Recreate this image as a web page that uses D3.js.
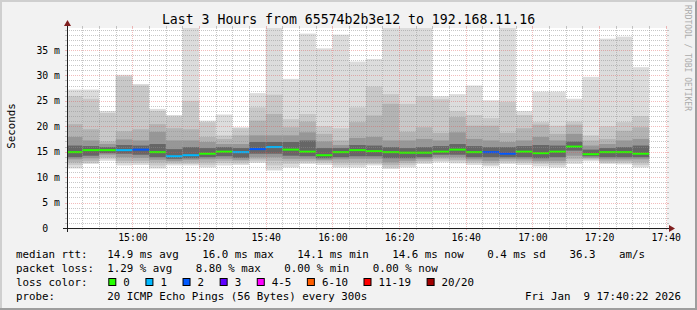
<!DOCTYPE html>
<html>
<head>
<meta charset="utf-8">
<script src="https://cdn.jsdelivr.net/npm/d3@7/dist/d3.min.js"></script>
<style>
  body { margin: 0; background: #f2f2f2; }
  svg text { font-family: "DejaVu Sans Mono", monospace; fill: #000; }
</style>
</head>
<body>
<svg id="smoke"></svg>
<script>
(function () {
    "use strict";

    const width = 697,
        height = 310;

    // ---- data ----
    const day = "2026-01-09";
    const rangeStart = "14:40:22",
        rangeEnd = "17:40:22";

    // end time of each 5 minute step
    const barEnd = ["14:45", "14:50", "14:55", "15:00", "15:05", "15:10", "15:15",
        "15:20", "15:25", "15:30", "15:35", "15:40", "15:45", "15:50", "15:55",
        "16:00", "16:05", "16:10", "16:15", "16:20", "16:25", "16:30", "16:35",
        "16:40", "16:45", "16:50", "16:55", "17:00", "17:05", "17:10", "17:15",
        "17:20", "17:25", "17:30", "17:35"];

    // median rtt (ms)
    const median = [14.9, 15.3, 15.3, 15.3, 15.4, 14.9, 14.1, 14.3, 14.6,
        15.0, 14.9, 15.5, 15.9, 15.4, 15.0, 14.3, 14.9, 15.3,
        15.1, 14.9, 14.8, 14.8, 15.0, 15.4, 14.9, 14.9, 14.6,
        15.0, 14.7, 15.0, 16.0, 14.5, 14.9, 14.9, 14.6];

    // lost pings out of 20
    const lost = [0, 0, 0, 1, 2, 0, 1, 1, 0,
        0, 1, 2, 1, 0, 0, 0, 0, 0,
        0, 0, 0, 0, 0, 0, 0, 2, 2,
        0, 0, 0, 0, 0, 0, 0, 0];

    // smoke, upper edges of the bands, outer band first (ms)
    const smokeHigh = [
        [27.2, 25.9, 20.4, 17.9, 16.2], [27.2, 25.4, 19.4, 17.2, 16.1],
        [23.0, 22.6, 17.0, 16.5, 15.9], [30.1, 29.8, 19.0, 17.4, 16.3],
        [28.3, 28.0, 19.4, 17.2, 16.2], [23.4, 23.0, 20.4, 18.9, 16.5],
        [22.2, 21.9, 19.6, 17.2, 15.5], [45.0, 25.0, 19.4, 17.2, 15.9],
        [21.1, 20.8, 17.9, 16.9, 15.7], [22.3, 18.2, 17.5, 16.5, 15.9],
        [19.8, 19.6, 18.2, 16.5, 15.7], [26.5, 23.7, 21.1, 18.2, 16.9],
        [45.0, 26.2, 22.4, 18.2, 16.9], [29.3, 21.4, 19.8, 18.2, 16.9],
        [38.2, 22.4, 20.9, 18.8, 17.2], [35.3, 20.0, 18.5, 17.0, 15.7],
        [38.0, 19.6, 17.2, 16.3, 15.7], [32.7, 23.7, 20.8, 17.7, 16.3],
        [33.2, 27.8, 22.1, 17.9, 16.2], [45.0, 26.3, 24.4, 17.2, 15.9],
        [45.0, 24.4, 18.9, 17.2, 15.7], [45.0, 25.9, 19.8, 17.5, 15.9],
        [25.9, 25.3, 18.7, 17.2, 16.1], [26.3, 23.0, 21.8, 18.8, 16.5],
        [28.0, 22.2, 20.1, 17.5, 16.1], [25.1, 21.6, 20.1, 17.2, 15.9],
        [45.0, 24.8, 18.7, 16.9, 15.9], [23.0, 22.2, 19.6, 17.2, 16.1],
        [26.8, 20.8, 20.3, 17.9, 16.3], [26.8, 20.1, 18.5, 17.2, 16.2],
        [25.4, 20.9, 20.3, 18.5, 17.0], [29.7, 18.2, 17.2, 16.2, 15.4],
        [37.2, 20.0, 17.5, 16.5, 15.7], [37.6, 20.8, 19.1, 17.2, 15.9],
        [31.6, 22.0, 19.8, 17.5, 16.2]
    ];

    // smoke, lower edges of the bands, outer band first (ms)
    const smokeLow = [
        [11.7, 12.4, 12.9, 13.5, 13.9], [12.6, 12.8, 13.2, 13.7, 14.2],
        [13.2, 13.6, 13.9, 14.4, 14.7], [12.3, 12.8, 13.2, 13.9, 14.6],
        [12.4, 12.8, 13.2, 13.8, 14.4], [11.7, 12.3, 12.9, 13.4, 13.9],
        [12.3, 12.6, 12.9, 13.2, 13.6], [12.3, 12.6, 12.9, 13.4, 13.7],
        [11.9, 12.4, 12.9, 13.5, 13.9], [12.3, 12.8, 13.2, 13.6, 14.1],
        [12.4, 12.7, 13.1, 13.4, 13.8], [12.8, 13.1, 13.5, 13.9, 14.6],
        [11.3, 12.3, 13.2, 13.9, 14.6], [11.9, 12.6, 13.1, 13.6, 14.2],
        [12.6, 12.9, 13.2, 13.6, 14.1], [12.4, 12.8, 13.1, 13.4, 13.7],
        [11.9, 12.4, 12.9, 13.5, 13.9], [11.9, 12.4, 12.9, 13.6, 14.1],
        [12.3, 12.6, 12.9, 13.6, 14.1], [11.6, 11.9, 12.4, 12.9, 13.7],
        [11.9, 12.4, 12.8, 13.2, 13.7], [12.6, 12.9, 13.2, 13.6, 13.9],
        [12.9, 13.2, 13.6, 13.9, 14.4], [12.7, 13.1, 13.4, 13.9, 14.4],
        [12.4, 12.8, 13.1, 13.5, 13.9], [12.1, 12.4, 12.8, 13.2, 13.9],
        [12.6, 12.9, 13.2, 13.6, 13.9], [12.4, 12.8, 13.1, 13.5, 13.9],
        [12.1, 12.6, 12.9, 13.2, 13.7], [11.9, 12.4, 12.8, 13.2, 13.9],
        [12.6, 13.1, 13.6, 14.2, 15.2], [13.1, 13.4, 13.6, 13.8, 14.1],
        [12.6, 12.8, 13.1, 13.5, 13.9], [12.5, 12.8, 13.1, 13.5, 13.9],
        [11.9, 12.4, 12.9, 13.5, 13.9]
    ];

    const yMax = 39.3;
    const yMajor = [0, 5, 10, 15, 20, 25, 30, 35];
    const xLabels = ["15:00", "15:20", "15:40", "16:00", "16:20", "16:40", "17:00", "17:20", "17:40"];

    const lossLabels = ["0", "1", "2", "3", "4-5", "6-10", "11-19", "20/20"];
    const lossUpTo = [0, 1, 2, 3, 5, 10, 19, 20];
    const lossColors = ["#26ff00", "#00b8ff", "#0059ff", "#5e00ff", "#ff00ff", "#ff5e00", "#ff0000", "#a10000"];

    const title = "Last 3 Hours from 65574b2b3e12 to 192.168.11.16";
    const rttLine = ["median rtt:", "14.9 ms avg", "16.0 ms max", "14.1 ms min", "14.6 ms now", "0.4 ms sd", "36.3", "am/s"];
    const lossLine = ["packet loss:", "1.29 % avg", "8.80 % max", "0.00 % min", "0.00 % now"];
    const probeText = "20 ICMP Echo Pings (56 Bytes) every 300s";
    const stamp = "Fri Jan  9 17:40:22 2026";

    const smokeColors = ["#dcdcdc", "#c8c8c8", "#b3b3b3", "#979797", "#666666"];

    // ---- scales ----
    const parse = d3.timeParse("%Y-%m-%d %H:%M:%S");
    const at = s => parse(`${day} ${s.length === 5 ? s + ":00" : s}`);
    const t0 = at(rangeStart), t1 = at(rangeEnd);

    const X0 = 67, X1 = 667, Y0 = 228, Y1 = 28;
    const x = d3.scaleTime().domain([t0, t1]).range([X0, X1]);
    const y = d3.scaleLinear().domain([0, yMax]).range([Y0, Y1]);

    const svg = d3.select("#smoke")
        .attr("width", width)
        .attr("height", height);

    // background and shaded frame
    svg.append("rect").attr("width", width).attr("height", height).attr("fill", "#f2f2f2");
    svg.append("path").attr("d", `M0,${height} V0 H${width} V2 H2 V${height - 2} H0 Z`).attr("fill", "#cfcfcf");
    svg.append("path").attr("d", `M${width},0 V${height} H0 V${height - 2} H${width - 2} V2 Z`).attr("fill", "#9e9e9e");

    svg.append("rect")
        .attr("x", X0).attr("y", Y1)
        .attr("width", X1 - X0).attr("height", Y0 - Y1)
        .attr("fill", "#ffffff");

    svg.append("clipPath").attr("id", "plot")
        .append("rect").attr("x", X0).attr("y", Y1)
        .attr("width", X1 - X0).attr("height", Y0 - Y1);

    const bars = barEnd.map((e, i) => {
        const end = at(e);
        const start = d3.timeMinute.offset(end, -5);
        return {
            x0: Math.max(x(start), X0),
            x1: x(end),
            med: median[i],
            lost: lost[i],
            hi: smokeHigh[i],
            lo: smokeLow[i]
        };
    });

    const plot = svg.append("g").attr("clip-path", "url(#plot)");

    // smoke, outer band first so the darker inner bands sit on top
    smokeColors.forEach((c, k) => {
        plot.append("g").selectAll("rect")
            .data(bars)
            .enter().append("rect")
            .attr("x", d => d.x0)
            .attr("width", d => d.x1 - d.x0)
            .attr("y", d => y(Math.min(d.hi[k], yMax + 1)))
            .attr("height", d => y(d.lo[k]) - y(Math.min(d.hi[k], yMax + 1)))
            .attr("fill", c);
    });

    // median, coloured by loss
    const lossIndex = n => lossUpTo.findIndex(u => n <= u);
    plot.append("g").selectAll("rect")
        .data(bars)
        .enter().append("rect")
        .attr("x", d => d.x0)
        .attr("width", d => d.x1 - d.x0)
        .attr("y", d => y(d.med) - 1)
        .attr("height", 2)
        .attr("fill", d => lossColors[lossIndex(d.lost)]);

    // ---- grid ----
    const grid = svg.append("g").attr("shape-rendering", "crispEdges");
    const minorCol = "rgba(143,143,143,0.5)",
        majorCol = "rgba(222,79,79,0.38)";

    const yMinor = d3.range(1, Math.floor(yMax) + 1).filter(v => v % 5 !== 0);
    const xMajor = xLabels.map(at);
    const xMinor = d3.timeMinute.every(5).range(t0, t1).filter(t => t.getMinutes() % 20 !== 0);

    function hLine(v, col, tick) {
        const yy = Math.round(y(v)) + 0.5;
        grid.append("line").attr("x1", X0 - tick).attr("x2", X0).attr("y1", yy).attr("y2", yy).attr("stroke", col);
        grid.append("line").attr("x1", X1).attr("x2", X1 + tick).attr("y1", yy).attr("y2", yy).attr("stroke", col);
        grid.append("line").attr("x1", X0).attr("x2", X1).attr("y1", yy).attr("y2", yy)
            .attr("stroke", col).attr("stroke-dasharray", "1,1");
    }
    function vLine(t, col, tick) {
        const xx = Math.round(x(t)) + 0.5;
        grid.append("line").attr("x1", xx).attr("x2", xx).attr("y1", Y0).attr("y2", Y0 + tick).attr("stroke", col);
        grid.append("line").attr("x1", xx).attr("x2", xx).attr("y1", Y1 - tick).attr("y2", Y1).attr("stroke", col);
        grid.append("line").attr("x1", xx).attr("x2", xx).attr("y1", Y1).attr("y2", Y0)
            .attr("stroke", col).attr("stroke-dasharray", "1,1");
    }
    yMinor.forEach(v => hLine(v, minorCol, 2));
    xMinor.forEach(t => vLine(t, minorCol, 2));
    yMajor.filter(v => v > 0).forEach(v => hLine(v, majorCol, 2));
    xMajor.forEach(t => vLine(t, majorCol, 2));

    // ---- axes ----
    const xAxis = d3.axisBottom(x)
        .tickValues(xMajor)
        .tickFormat(d3.timeFormat("%H:%M"))
        .tickSize(0);
    const gx = svg.append("g").attr("transform", `translate(0,${Y0})`).call(xAxis);
    gx.select(".domain").remove();
    gx.selectAll("text")
        .attr("y", 13).attr("dy", null)
        .attr("font-family", "DejaVu Sans Mono")
        .attr("font-size", 9.8);

    const yAxis = d3.axisLeft(y)
        .tickValues(yMajor)
        .tickFormat(v => v === 0 ? "0  " : `${v} m`)
        .tickSize(0)
        .tickPadding(7);
    const gy = svg.append("g").attr("transform", `translate(${X0},0)`).call(yAxis);
    gy.select(".domain").remove();
    gy.selectAll("text")
        .style("white-space", "pre")
        .attr("font-family", "DejaVu Sans Mono")
        .attr("font-size", 9.8);

    const axisCol = "#1f1f1f", arrowCol = "#801f1f";
    svg.append("line").attr("x1", X0 - 4).attr("x2", X1 + 4).attr("y1", Y0 + 0.5).attr("y2", Y0 + 0.5)
        .attr("stroke", axisCol).attr("shape-rendering", "crispEdges");
    svg.append("line").attr("x1", X0 + 0.5).attr("x2", X0 + 0.5).attr("y1", Y0 + 4).attr("y2", Y1 - 4)
        .attr("stroke", axisCol).attr("shape-rendering", "crispEdges");
    svg.append("path").attr("d", `M${X1 + 2},${Y0 - 3} L${X1 + 2},${Y0 + 4} L${X1 + 8},${Y0 + 0.5} Z`).attr("fill", arrowCol);
    svg.append("path").attr("d", `M${X0 - 3},${Y1 - 2} L${X0 + 4},${Y1 - 2} L${X0 + 0.5},${Y1 - 8} Z`).attr("fill", arrowCol);

    // ---- texts ----
    svg.append("text")
        .attr("x", width / 2).attr("y", 24)
        .attr("text-anchor", "middle")
        .attr("font-size", 13.2)
        .text(title);

    svg.append("text")
        .attr("transform", "translate(15,126) rotate(-90)")
        .attr("text-anchor", "middle")
        .attr("font-size", 10.8)
        .text("Seconds");

    svg.append("text")
        .attr("transform", "translate(685,5) rotate(90)")
        .attr("font-size", 8)
        .style("fill", "#ababab")
        .text("RRDTOOL / TOBI OETIKER");

    const legendSize = 10.8, gap = 23.5, col2 = 107.3;

    function legendRow(items, yy) {
        let xx = 16;
        items.forEach((s, i) => {
            if (i === 1) xx = col2;
            const t = svg.append("text")
                .attr("x", xx).attr("y", yy)
                .attr("font-size", legendSize)
                .text(s);
            xx += t.node().getComputedTextLength() + gap;
        });
    }
    legendRow(rttLine, 258);
    legendRow(lossLine, 272);

    // loss colour row
    svg.append("text").attr("x", 16).attr("y", 286).attr("font-size", legendSize).text("loss color:");
    let lx = col2 + 1;
    lossLabels.forEach((s, i) => {
        svg.append("rect")
            .attr("x", lx + 0.5).attr("y", 278.5)
            .attr("width", 7).attr("height", 7)
            .attr("fill", lossColors[i])
            .attr("stroke", "#000");
        const t = svg.append("text")
            .attr("x", lx + 15).attr("y", 286)
            .attr("font-size", legendSize)
            .text(s);
        lx += 15 + t.node().getComputedTextLength() + 15.6;
    });

    svg.append("text").attr("x", 16).attr("y", 299.5).attr("font-size", legendSize).text("probe:");
    svg.append("text").attr("x", col2).attr("y", 299.5).attr("font-size", legendSize).text(probeText);
    svg.append("text").attr("x", 681).attr("y", 299.5)
        .attr("text-anchor", "end")
        .style("white-space", "pre")
        .attr("font-size", legendSize).text(stamp);
})();
</script>
</body>
</html>
